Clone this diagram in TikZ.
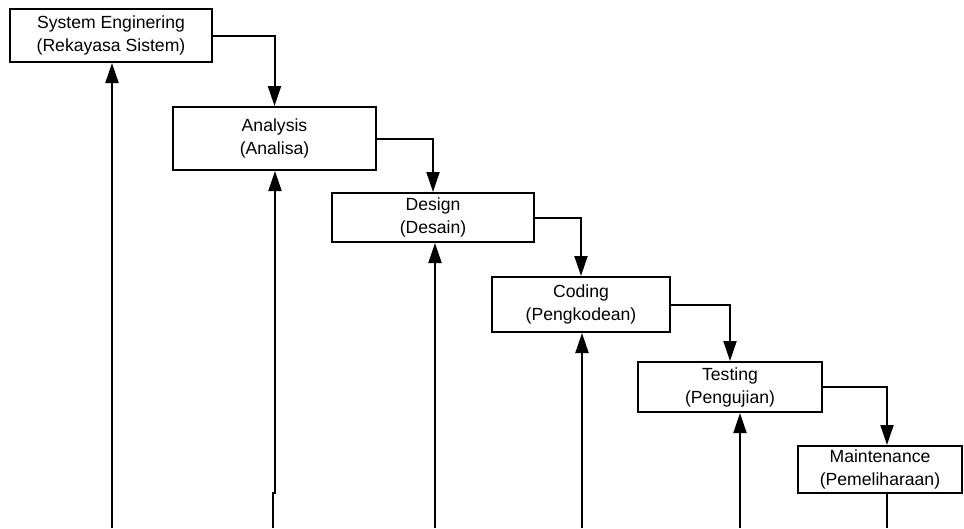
\documentclass[tikz,border=0pt]{standalone}
\usepackage{fontspec}
\setmainfont{Liberation Sans}
\usetikzlibrary{arrows.meta}
\tikzset{
	phase/.style={draw, line width=2pt, align=center, inner sep=0pt, font=\fontsize{17.6}{23}\selectfont},
	flow/.style={line width=2pt, -{Triangle[length=20pt,width=13pt]}},
	tail/.style={line width=2pt}
}

\begin{document}
\begin{tikzpicture}[x=1pt, y=-1pt]
			%%%%% START %%%%%
			\useasboundingbox (0,0) rectangle (964,528);
			
			\node[phase, minimum width=202pt, minimum height=53pt] (sys) at (111,35.5) {System Enginering\\(Rekayasa Sistem)};
			\node[phase, minimum width=203pt, minimum height=63pt] (ana) at (274.5,138.5) {Analysis\\(Analisa)};
			\node[phase, minimum width=202pt, minimum height=49pt] (des) at (433,217.5) {Design\\(Desain)};
			\node[phase, minimum width=178pt, minimum height=55pt] (cod) at (581,304.5) {Coding\\(Pengkodean)};
			\node[phase, minimum width=184pt, minimum height=50pt] (tes) at (730,387) {Testing\\(Pengujian)};
			\node[phase, minimum width=164pt, minimum height=47pt] (mai) at (880,469.5) {Maintenance\\(Pemeliharaan)};
			
			% down the steps
			\draw[flow] (sys.east) -| (ana.north);
			\draw[flow] (ana.east) -| (des.north);
			\draw[flow] (des.east) -| (cod.north);
			\draw[flow] (cod.east) -| (tes.north);
			\draw[flow] (tes.east) -| ([xshift=7pt]mai.north);
			
			% back up from the bottom edge
			\coordinate (b1) at (112,528);
			\coordinate (b2) at (273,528);
			\coordinate (k2) at (275,493);
			\coordinate (b3) at (435,528);
			\coordinate (b4) at (582,528);
			\coordinate (b5) at (740,528);
			\coordinate (b6) at (887,528);
			
			\draw[flow] (b1) -- (b1 |- sys.south);
			\draw[flow] (b2) |- (k2) -- (k2 |- ana.south);
			\draw[flow] (b3) -- (b3 |- des.south);
			\draw[flow] (b4) -- (b4 |- cod.south);
			\draw[flow] (b5) -- (b5 |- tes.south);
			\draw[tail] (b6 |- mai.south) -- (b6);
			
			%%%%% END %%%%%
\end{tikzpicture}
\end{document}
